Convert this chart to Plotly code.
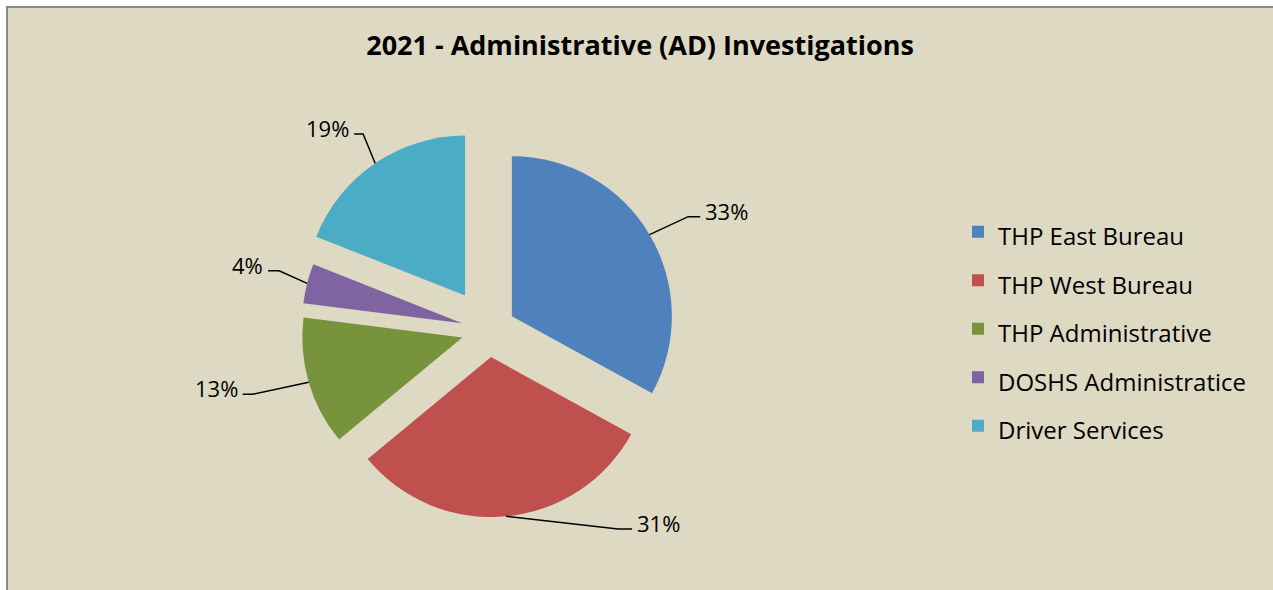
import math
import plotly.graph_objects as go

# ---- data ----
categories = ["THP East Bureau", "THP West Bureau", "THP Administrative",
              "DOSHS Administratice", "Driver Services"]
values = [33, 31, 13, 4, 19]
colors = ["#4F81BD", "#C0504D", "#77933C", "#8064A2", "#4BACC6"]
pulls = [0.17, 0.17, 0.17, 0.17, 0.26]
title_text = "2021 - Administrative (AD) Investigations"

# ---- style / layout ----
W, H = 1273, 590
DOM_X = [0.1837, 0.5837]
DOM_Y = [0.099, 0.7824]
FONT = "Open Sans"
# leader-line style per slice: (elbow dx, elbow dy, horizontal length) in px
LEADER = [(38.6, -18, 12), (112, 12.6, 14), (-56, 12, 10), (-28, -12.7, 11), (-12, -29.3, 9)]
# legend row pitch comes from the legend font size; visible text is drawn at 24px
LEGEND_ROW_FONT = 35
LEGEND_TEXT_SIZE = 24
legend_labels = [f'<span style="font-size:{LEGEND_TEXT_SIZE}px">{c}</span>' for c in categories]

fig = go.Figure(go.Pie(
    labels=legend_labels, values=values, sort=False, direction="clockwise", rotation=0,
    pull=pulls, marker=dict(colors=colors, line=dict(width=0)),
    textinfo="none", hoverinfo="label+percent",
    domain=dict(x=DOM_X, y=DOM_Y), showlegend=True,
))

# geometry matching plotly's pie layout (margins are zero)
box_w = W * (DOM_X[1] - DOM_X[0])
box_h = H * (DOM_Y[1] - DOM_Y[0])
r = min(box_w, box_h) / (2 + 2 * max(pulls))
cx = W * (DOM_X[0] + DOM_X[1]) / 2
cy = H * (1 - (DOM_Y[0] + DOM_Y[1]) / 2)

def px(x):
    return x / W

def py(y):
    return 1 - y / H

shapes = [dict(type="rect", xref="paper", yref="paper", x0=px(7), x1=px(W + 10),
               y0=py(7), y1=py(H + 10), fillcolor="#DDD9C3",
               line=dict(color="#888888", width=2), layer="below")]
annotations = []
total = sum(values)
cum = 0
for i, v in enumerate(values):
    mid = (cum + v / 2) / total * 2 * math.pi
    cum += v
    dx, dy = math.sin(mid), -math.cos(mid)
    dist = r * (1 + pulls[i])
    sx, sy = cx + dist * dx, cy + dist * dy
    ex, ey = sx + LEADER[i][0], sy + LEADER[i][1]
    side = 1 if LEADER[i][0] > 0 else -1
    hx = ex + side * LEADER[i][2]
    shapes.append(dict(type="path", xref="paper", yref="paper",
                       path=f"M {px(sx)},{py(sy)} L {px(ex)},{py(ey)} L {px(hx)},{py(ey)}",
                       line=dict(color="#000000", width=1.5)))
    pct = round(v / total * 100)
    annotations.append(dict(
        text=f"{pct}%", xref="paper", yref="paper", showarrow=False,
        x=px(hx + side * 3), y=py(ey - 6),
        xanchor="left" if side > 0 else "right", yanchor="middle",
        font=dict(family=FONT, size=22, color="#000000")))

fig.update_layout(
    width=W, height=H, margin=dict(l=0, r=0, t=0, b=0),
    paper_bgcolor="#FFFFFF", plot_bgcolor="#DDD9C3",
    title=dict(text=f"<b>{title_text}</b>", x=640 / W, xanchor="center",
               y=py(46), yanchor="middle",
               font=dict(family=FONT, size=27, color="#000000")),
    legend=dict(x=px(958), xanchor="left", y=py(329), yanchor="middle",
                font=dict(family=FONT, size=LEGEND_ROW_FONT, color="#000000"),
                bgcolor="rgba(0,0,0,0)"),
    shapes=shapes, annotations=annotations,
)

fig.write_html("out.html", config={"displayModeBar": False},
               post_script="document.body.style.margin='0px';")
